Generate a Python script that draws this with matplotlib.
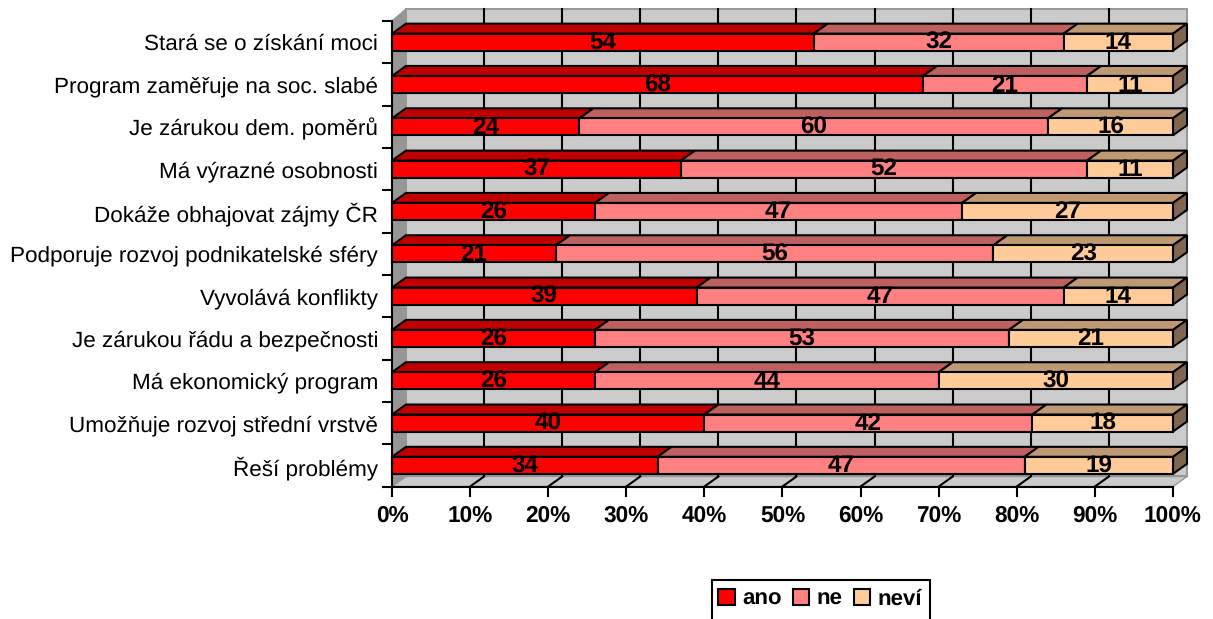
import matplotlib
matplotlib.use('Agg')
import matplotlib.pyplot as plt
from matplotlib.patches import Polygon, Rectangle
import numpy as np

plt.rcParams['font.family'] = ['Liberation Sans', 'DejaVu Sans']
plt.rcParams['text.hinting'] = 'no_hinting'

categories = ['Stará se o získání moci', 'Program zaměřuje na soc. slabé', 'Je zárukou dem. poměrů',
              'Má výrazné osobnosti', 'Dokáže obhajovat zájmy ČR', 'Podporuje rozvoj podnikatelské sféry',
              'Vyvolává konflikty', 'Je zárukou řádu a bezpečnosti', 'Má ekonomický program',
              'Umožňuje rozvoj střední vrstvě', 'Řeší problémy']
ano = [54, 68, 24, 37, 26, 21, 39, 26, 26, 40, 34]
ne = [32, 21, 60, 52, 47, 56, 47, 53, 44, 42, 47]
nevi = [14, 11, 16, 11, 27, 23, 14, 21, 30, 18, 19]
series_names = ['ano', 'ne', 'neví']
xticks = list(range(0, 101, 10))

colors = ['#FF0000', '#FF8080', '#FFCC99']
top_colors = ['#BF0000', '#BF6060', '#BF9973']
side_color = '#806650'
wall = '#CBCBCB'
wall_edge = '#969696'

W, H = 1213, 619
fig = plt.figure(figsize=(W / 100, H / 100), dpi=100)
# front plane of the chart, in pixels: x 392-1173, y 21-486
ax = fig.add_axes([392 / W, 1 - 486.5 / H, 781 / W, 465.5 / H])
ax.set_xlim(0, 100)
ax.set_ylim(10.5, -0.5)
ax.patch.set_visible(False)

px_x = 100 / 781
px_y = 11 / 465.5
dx = 14 * px_x
dy = 10 * px_y
dy_wall_top = 12 * px_y
y_top = -0.5 - dy_wall_top
y_floor = 10.5 - dy

# walls and floor
ax.add_patch(Polygon([(dx, y_top), (100 + dx, y_top), (100 + dx, y_floor), (dx, y_floor)],
                     fc=wall, ec=wall_edge, lw=1.4, clip_on=False, zorder=1))
ax.add_patch(Polygon([(0, -0.5), (dx, y_top), (dx, y_floor), (0, 10.5)],
                     fc=wall_edge, ec=wall_edge, lw=1, clip_on=False, zorder=1))
ax.add_patch(Polygon([(0, 10.5), (dx, y_floor), (100 + dx, y_floor), (100, 10.5)],
                     fc=wall, ec=wall_edge, lw=1, clip_on=False, zorder=1))

for x in xticks[1:-1]:
    ax.plot([x + dx, x + dx], [y_top, y_floor], color='black', lw=1.5, clip_on=False, zorder=2)
    ax.plot([x, x + dx], [10.5, y_floor], color='black', lw=1.5, clip_on=False, zorder=2)

# bars
bar_h = 17 * px_y
y = np.arange(len(categories))
left = np.zeros(len(categories))
for name, vals, c, tc in zip(series_names, [ano, ne, nevi], colors, top_colors):
    ax.barh(y, vals, left=left, height=bar_h, color=c, edgecolor='black', lw=1.5, label=name,
            zorder=4, clip_on=False)
    for i, v in enumerate(vals):
        l = left[i]
        t = i - bar_h / 2
        ax.add_patch(Polygon([(l, t), (l + dx, t - dy), (l + v + dx, t - dy), (l + v, t)],
                             fc=tc, ec='black', lw=1.5, clip_on=False, zorder=3))
        ax.text(l + v / 2, i + 0.02, str(v), ha='center', va='center', fontsize=17.5,
                fontweight='bold', color='black', zorder=6)
    left = left + np.array(vals)

for i in y:
    t = i - bar_h / 2
    b = i + bar_h / 2
    ax.add_patch(Polygon([(100, t), (100 + dx, t - dy), (100 + dx, b - dy), (100, b)],
                         fc=side_color, ec='black', lw=1.5, clip_on=False, zorder=3))

# axes
for s in ['top', 'right']:
    ax.spines[s].set_visible(False)
for s in ['left', 'bottom']:
    ax.spines[s].set_linewidth(1.5)
    ax.spines[s].set_zorder(5)
ax.set_xticks(xticks)
ax.set_xticklabels([f'{t}%' for t in xticks], fontsize=16.3, fontweight='bold')
ax.tick_params(axis='x', length=7.5, width=1.5, pad=6)
ax.set_yticks(y)
ax.set_yticklabels(categories, fontsize=16.2, va='center_baseline')
ax.set_yticks(np.arange(-0.5, 11), minor=True)
ax.tick_params(axis='y', which='major', length=0, pad=10)
ax.tick_params(axis='y', which='minor', length=7.5, width=1.5)

# legend box runs off the bottom of the picture
fig.add_artist(Rectangle((712 / W, -0.02), 218 / W, 0.02 + 1 - 580 / H, fc='white', ec='black',
                         lw=1.5, transform=fig.transFigure))
handles, labels = ax.get_legend_handles_labels()
leg = fig.legend(handles, labels, loc='center', bbox_to_anchor=(820 / W, 1 - 599 / H), ncol=3,
                 frameon=False, prop={'size': 16, 'weight': 'bold'}, handlelength=0.75, handleheight=0.75,
                 handletextpad=0.32, columnspacing=0.5, borderpad=0)

fig.savefig('out.png', dpi=100)
